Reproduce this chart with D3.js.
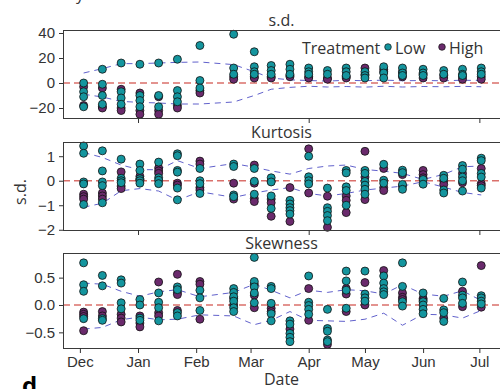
<!DOCTYPE html>
<html>
<head>
<meta charset="utf-8">
<script src="https://cdn.jsdelivr.net/npm/d3@7"></script>
<style>
  html, body { margin: 0; padding: 0; background: #fff; }
  svg { display: block; font-family: "Open Sans", "DejaVu Sans", sans-serif; }
</style>
</head>
<body>
<svg id="chart" width="500" height="389"></svg>
<script>
// Sampling dates
const dates = ["2015-12-03","2015-12-13","2015-12-23","2016-01-02","2016-01-12","2016-01-22",
  "2016-02-03","2016-02-21","2016-03-03","2016-03-12","2016-03-22","2016-04-01","2016-04-11",
  "2016-04-21","2016-05-01","2016-05-11","2016-05-21","2016-06-01","2016-06-12","2016-06-22","2016-07-02"];

// s.d. (one list per date)
const sdLow = [[0,-7,-11,-19],[11,-1,-10,-17],[16,-7,-12,-17],[15,-10,-14,-19],[16,-10,-19],[19,-6,-11,-15],
  [30,2,-4],[39,12,7],[25,13,9,7],[14,10,7],[15,11,7],[12,9,7],[10,7],[12,9,6],[9,6,4],[13,8,4],
  [12,8,6],[11,8,6],[10,7],[11,7,6],[12,9,7]];
const sdHigh = [[-3,-18],[-4,-19,-20],[-5,-20,-22],[-8,-22,-25],[-11,-22,-25],[-18,-20],
  [-6,-8],[5,3],[5,4],[5,4],[6,5],[5,4],[4,3],[5,4],[12,7],[11,9],[9,5],[7,4],[6,4],[5,3],[5,3]];
const sdUpper = [8,11.5,15.5,15.5,16,16.5,16.8,14.7,9,4,2.5,2,1.5,2.2,1.8,2.3,1.8,2,1.8,2.2,2];
const sdLower = [-9,-11.2,-14.7,-15.5,-16,-16.8,-16.8,-15.2,-10,-5,-3.5,-2.6,-3.2,-2.8,-3.3,-2.6,-3.2,-2.8,-3,-2.7,-3];

// Kurtosis
const kurtLow = [[1.42,1.12,-0.05,-0.13,-0.97],[1.22,0.4,-0.05,-0.2,-0.9],[0.88,0.1,0,-0.08],
  [0.68,0.42,0.08,0,-0.1],[0.76,0.12,0.02,-0.12],[1.1,1.02,0.42,0.35,-0.3,-0.78],[0.5,0,-0.12,-0.52],
  [0.68,0.58,-0.58,-0.65],[0.5,-0.02,-0.55],[0.12,-0.05,-0.62,-1.13],[-0.8,-0.95,-1.1,-1.22,-1.36],
  [1.0,0.16,0,-0.13],[-0.3,-1.1,-1.25,-1.42,-1.63],[0.42,0.32,-0.25,-0.4,-1.0],
  [0.42,0.3,-0.03,-0.18,-0.35,-0.55],[0.67,0.02,-0.1],[0.43,0.33,-0.15,-0.35],[0.05,-0.14],
  [0.22,0.1,-0.38,-0.5],[0.62,0.47,0.15,0,-0.42],[0.92,0.82,0.3,0.15,-0.3]];
const kurtHigh = [[-0.55,-0.65,-0.75],[-0.5,-0.62,-0.75],[0.36,-0.22,-0.32],[0.18,0.05],[0.52,0.4,0.3],
  [-0.1,-0.18],[0.8,0.68,-0.28,-0.38],[-0.1,-0.75],[0.64,-0.1,-0.72,-0.85],[-0.02,-0.75,-0.9,-1.45],
  [-0.28,-1.66],[1.3,-0.5],[-0.63,-1.9],[-0.62,-0.8,-1.3],[1.2,0.15,-0.77],[0.5,-0.28,-0.4],
  [0.25,-0.22],[0.42,0.25,0.12],[0,-0.15],[0.3,-0.08],[0.5,-0.12,-0.2]];
const kurtUpper = [1.15,0.95,0.64,0.45,0.45,0.82,0.5,0.7,0.55,0.4,0.27,0.5,0.6,0.64,0.46,0.39,0.3,0.05,0.26,0.57,0.6];
const kurtLower = [-1.08,-0.92,-0.41,-0.32,-0.42,-0.79,-0.45,-0.68,-0.5,-0.38,-0.28,-0.52,-0.62,-0.52,-0.38,-0.3,-0.22,-0.04,-0.26,-0.48,-0.58];

// Skewness
const skewLow = [[0.77,0.37,0.25,-0.25],[0.54,0.35,-0.25,-0.28],[0.46,0.4,0.04,-0.07],[0.1,0,-0.24,-0.28],
  [0.22,0.05,-0.05,-0.29],[0.33,0.28,-0.14,-0.2],[0.27,0.13,-0.1],[0.3,0.23,0.15,0.07,-0.05,-0.12],
  [0.87,0.43,0.33,0.22,0.04],[0.34,0.3,0.03,-0.16,-0.29],[-0.29,-0.35,-0.52,-0.59,-0.67],
  [0.53,0.05,-0.01,-0.08,-0.17],[-0.08,-0.43,-0.48,-0.64,-0.67],[0.62,0.44,0.27,-0.06],
  [0.62,0.2,0.13,0.07],[0.53,0.4,0.3,0.24,0.19],[0.77,0.34,0.06,-0.02],[0.22,0.06,0,-0.08,-0.16],
  [0.12,-0.09,-0.14,-0.3],[0.42,0.18,0.13,0.03],[0.17,0.13,0.07,0.02]];
const skewHigh = [[-0.13,-0.17,-0.21,-0.47],[-0.12,-0.2],[-0.17,-0.24,-0.31],[-0.2,-0.33,-0.4],
  [0.42,-0.14,-0.2],[0.56,0.23,0.19,-0.1],[0.43,0.38,-0.26],[0.12,0],[0.38,0.18,-0.05],[-0.06,-0.12],
  [-0.44],[0.3,-0.28],[-0.72],[0.3,0.2,-0.12],[0.41,0],[0.63],[0.22,0.14,0.1],[0.12,0.09],[-0.24],
  [0.25,-0.03],[0.72,-0.04]];
const skewUpper = [0.4,0.38,0.25,0.16,0.24,0.28,0.15,0.23,0.38,0.27,0.13,0.27,0.23,0.28,0.26,0.2,0.37,0.2,0.16,0.26,0.08];
const skewLower = [-0.44,-0.41,-0.27,-0.22,-0.27,-0.26,-0.18,-0.2,-0.36,-0.28,-0.12,-0.28,-0.29,-0.3,-0.26,-0.15,-0.37,-0.17,-0.18,-0.24,-0.1];

// Axis ticks
const sdTicks = [40, 20, 0, -20];
const kurtTicks = [1, 0, -1, -2];
const skewTicks = [0.5, 0.0, -0.5];
const monthTicks = ["2015-12-01","2016-01-01","2016-02-01","2016-03-01","2016-04-01","2016-05-01","2016-06-01","2016-07-01"];
const quarterTicks = ["2016-01-01","2016-04-01","2016-07-01"];
const treatments = ["Low", "High"];

const parse = d3.timeParse("%Y-%m-%d");
const colors = { Low: "#14959e", High: "#6a2a6c" };
const textColor = "#333";

const svg = d3.select("#chart");
const left = 63, right = 500;

const x = d3.scaleTime()
  .domain([new Date(2015, 10, 22), new Date(2016, 6, 12)])
  .range([left, right]);

const panels = [
  { title: "s.d.",     low: sdLow,   high: sdHigh,   upper: sdUpper,   lower: sdLower,
    top: 30,  bottom: 118, domain: [-28, 42.4],      ticks: sdTicks,   fmt: d3.format("d"), bottomAxis: false },
  { title: "Kurtosis", low: kurtLow, high: kurtHigh, upper: kurtUpper, lower: kurtLower,
    top: 142, bottom: 230, domain: [-2.01, 1.58],    ticks: kurtTicks, fmt: d3.format("d"), bottomAxis: false },
  { title: "Skewness", low: skewLow, high: skewHigh, upper: skewUpper, lower: skewLower,
    top: 253, bottom: 348, domain: [-0.786, 0.95],   ticks: skewTicks, fmt: d3.format(".1f"), bottomAxis: true }
];

panels.forEach(p => {
  const y = d3.scaleLinear().domain(p.domain).range([p.bottom, p.top]);
  const g = svg.append("g");

  // zero reference
  g.append("line")
    .attr("x1", left).attr("x2", right)
    .attr("y1", y(0)).attr("y2", y(0))
    .attr("stroke", "#d6605b").attr("stroke-opacity", 0.9)
    .attr("stroke-width", 1.6).attr("stroke-dasharray", "7,4");

  // envelope lines
  const line = d3.line().x((d, i) => x(parse(dates[i]))).y(d => y(d));
  [p.upper, p.lower].forEach(env => {
    g.append("path").datum(env)
      .attr("d", line)
      .attr("fill", "none")
      .attr("stroke", "#4545c2").attr("stroke-opacity", 0.85)
      .attr("stroke-width", 1).attr("stroke-dasharray", "6,5");
  });

  // points
  const pts = [];
  dates.forEach((d, i) => {
    p.high[i].forEach(v => pts.push({ date: parse(d), value: v, t: "High" }));
    p.low[i].forEach(v => pts.push({ date: parse(d), value: v, t: "Low" }));
  });
  g.selectAll("circle.pt").data(pts).join("circle")
    .attr("class", "pt")
    .attr("cx", d => x(d.date)).attr("cy", d => y(d.value))
    .attr("r", 4)
    .attr("fill", d => colors[d.t])
    .attr("stroke", "#111").attr("stroke-width", 0.8);

  // frame
  g.append("rect")
    .attr("x", left + 0.5).attr("y", p.top + 0.5)
    .attr("width", right - left).attr("height", p.bottom - p.top)
    .attr("fill", "none").attr("stroke", "#3a3a3a").attr("stroke-width", 1);

  // y axis
  const ya = g.append("g").attr("transform", `translate(${left},0)`)
    .call(d3.axisLeft(y).tickValues(p.ticks).tickSize(4).tickPadding(4).tickFormat(p.fmt));
  ya.select(".domain").remove();
  ya.selectAll("text").attr("fill", textColor).style("font-size", "15px")
    .text(d => p.fmt(d).replace("-", "\u2212"));
  ya.selectAll("line").attr("stroke", "#333");

  // x axis
  const xa = g.append("g").attr("transform", `translate(0,${p.bottom})`)
    .call(d3.axisBottom(x)
      .tickValues((p.bottomAxis ? monthTicks : quarterTicks).map(parse))
      .tickSize(5).tickPadding(3)
      .tickFormat(p.bottomAxis ? d3.timeFormat("%b") : () => ""));
  xa.select(".domain").remove();
  xa.selectAll("text").attr("fill", textColor).style("font-size", "15px");
  xa.selectAll("line").attr("stroke", "#333");

  // title
  g.append("text")
    .attr("x", (left + right) / 2).attr("y", p.top - 4)
    .attr("text-anchor", "middle")
    .attr("fill", textColor).style("font-size", "16px")
    .text(p.title);
});

// legend
const lg = svg.append("g").attr("transform", "translate(0,54)").style("font-size", "16px").attr("fill", textColor);
lg.append("text").attr("x", 302).attr("y", 0).text("Treatment");
const legendX = { Low: 388, High: 442 };
treatments.forEach(t => {
  lg.append("circle").attr("cx", legendX[t]).attr("cy", -7).attr("r", 3.3)
    .attr("fill", colors[t]).attr("stroke", "#111").attr("stroke-width", 0.7);
  lg.append("text").attr("x", legendX[t] + 7).attr("y", 0).text(t);
});

// axis labels
svg.append("text")
  .attr("transform", "translate(26,192) rotate(-90)")
  .attr("text-anchor", "middle").attr("fill", textColor).style("font-size", "16px")
  .text("s.d.");
svg.append("text")
  .attr("x", (left + right) / 2).attr("y", 385)
  .attr("text-anchor", "middle").attr("fill", textColor).style("font-size", "16px")
  .text("Date");

// panel letter, and the tail of the line above
svg.append("text").attr("x", 22).attr("y", 394)
  .style("font-size", "24px").style("font-weight", "bold").attr("fill", "#000").text("d");
svg.append("text").attr("x", 76).attr("y", 0)
  .style("font-size", "16px").attr("fill", textColor).text("y");
</script>
</body>
</html>
